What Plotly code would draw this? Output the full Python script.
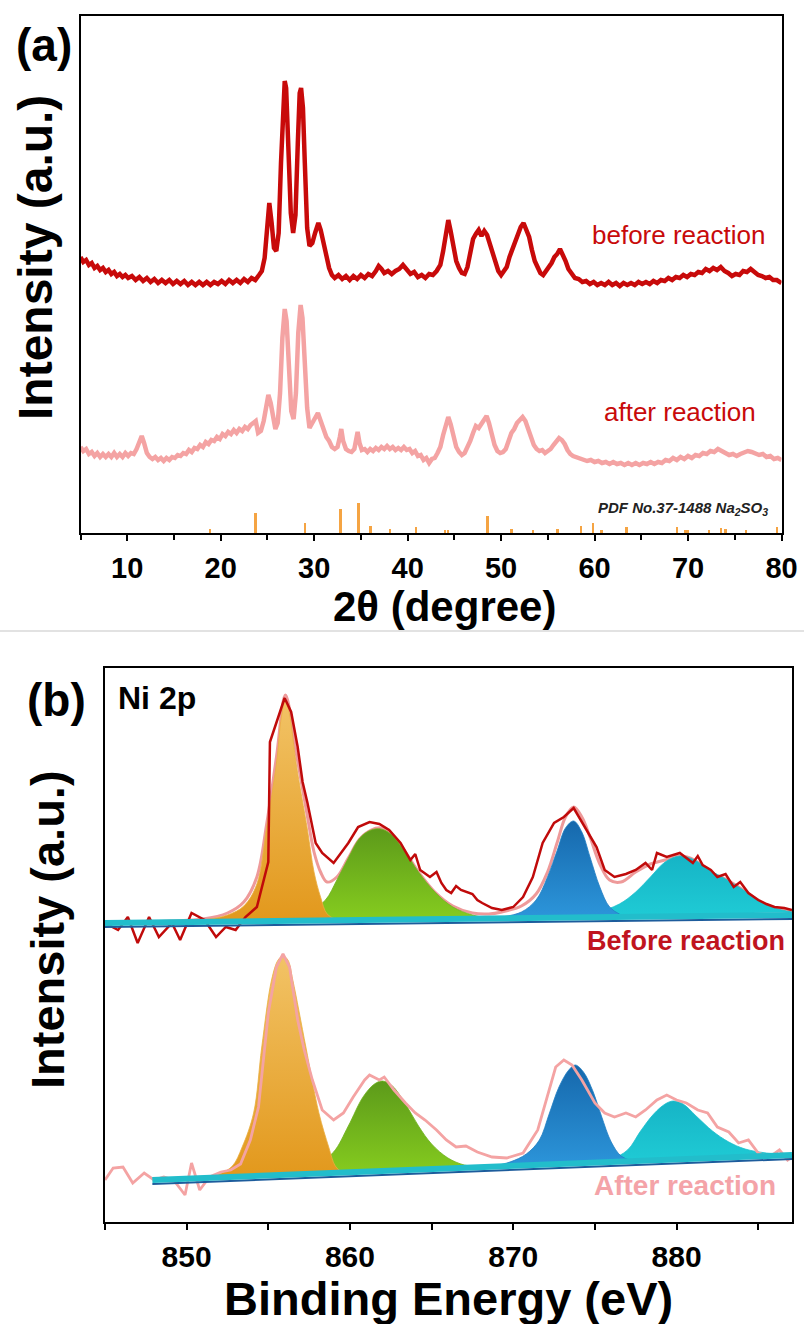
import plotly.graph_objects as go

# ---------------- Panel (a): XRD (2theta, intensity a.u.) ----------------
xrd_before = [
    (5.0, 276), (5.3, 271), (5.6, 273), (5.9, 268), (6.2, 270), (6.5, 265), (6.8, 267), (7.1, 263), (7.4, 265),
    (7.7, 261), (8.0, 263), (8.3, 259), (8.6, 261), (8.9, 257), (9.2, 259), (9.5, 256), (9.8, 258), (10.1, 255),
    (10.5, 257), (10.9, 253), (11.3, 256), (11.7, 252), (12.1, 255), (12.5, 251), (12.9, 254), (13.3, 250),
    (13.7, 253), (14.1, 250), (14.5, 253), (14.9, 249), (15.3, 252), (15.7, 249), (16.1, 252), (16.5, 248),
    (16.9, 251), (17.3, 248), (17.7, 251), (18.1, 248), (18.5, 251), (18.9, 248), (19.3, 251), (19.7, 249),
    (20.1, 252), (20.5, 249), (20.9, 253), (21.3, 250), (21.7, 253), (22.1, 250), (22.5, 254), (22.9, 251),
    (23.3, 255), (23.7, 253), (24.1, 258), (24.4, 262), (24.7, 275), (24.95, 305), (25.2, 330), (25.45, 310),
    (25.7, 285), (25.95, 282), (26.2, 300), (26.45, 370), (26.7, 440), (26.85, 452), (27.0, 445), (27.25, 390),
    (27.5, 320), (27.75, 300), (28.0, 318), (28.25, 390), (28.45, 440), (28.6, 445), (28.8, 425), (29.0, 370),
    (29.25, 305), (29.5, 287), (29.8, 290), (30.1, 300), (30.45, 310), (30.7, 303), (31.0, 290), (31.3, 274),
    (31.6, 265), (31.9, 258), (32.2, 255), (32.6, 258), (33.0, 254), (33.4, 257), (33.8, 253), (34.2, 257),
    (34.6, 254), (35.0, 258), (35.4, 255), (35.8, 259), (36.2, 257), (36.6, 262), (36.9, 267), (37.2, 264),
    (37.5, 260), (37.9, 262), (38.3, 259), (38.7, 262), (39.1, 264), (39.5, 268), (39.9, 263), (40.3, 259),
    (40.7, 261), (41.1, 256), (41.5, 258), (41.9, 255), (42.3, 259), (42.7, 258), (43.1, 262), (43.5, 268),
    (43.8, 282), (44.1, 302), (44.35, 313), (44.6, 302), (44.9, 285), (45.2, 272), (45.5, 265), (45.8, 260),
    (46.1, 259), (46.4, 266), (46.7, 280), (47.0, 294), (47.3, 299), (47.6, 303), (47.9, 297), (48.2, 302),
    (48.5, 298), (48.8, 288), (49.1, 280), (49.4, 270), (49.7, 262), (50.0, 258), (50.3, 262), (50.6, 266),
    (50.9, 276), (51.2, 284), (51.5, 292), (51.8, 300), (52.1, 306), (52.4, 310), (52.7, 304), (53.0, 296),
    (53.3, 283), (53.6, 272), (53.9, 266), (54.2, 260), (54.5, 258), (54.8, 262), (55.1, 265), (55.4, 270),
    (55.7, 276), (56.0, 279), (56.3, 284), (56.6, 279), (56.9, 272), (57.2, 264), (57.5, 260), (57.9, 255),
    (58.3, 254), (58.7, 251), (59.1, 252), (59.5, 249), (59.9, 251), (60.3, 248), (60.7, 250), (61.1, 248),
    (61.5, 251), (61.9, 248), (62.3, 250), (62.7, 247), (63.1, 250), (63.5, 248), (63.9, 250), (64.3, 248),
    (64.7, 251), (65.1, 249), (65.5, 251), (65.9, 249), (66.3, 252), (66.7, 250), (67.1, 253), (67.5, 252),
    (67.9, 255), (68.3, 253), (68.7, 256), (69.1, 255), (69.5, 258), (69.9, 256), (70.3, 259), (70.7, 258),
    (71.1, 261), (71.5, 260), (71.9, 264), (72.3, 262), (72.7, 265), (73.1, 263), (73.5, 266), (73.9, 262),
    (74.3, 260), (74.7, 257), (75.1, 259), (75.5, 258), (75.9, 262), (76.3, 261), (76.7, 264), (77.1, 261),
    (77.5, 258), (77.9, 257), (78.3, 255), (78.7, 256), (79.1, 253), (79.5, 253), (80.0, 250)]

xrd_after = [
    (5.0, 86), (5.3, 82), (5.6, 84), (5.9, 79), (6.2, 81), (6.5, 77), (6.8, 80), (7.1, 76), (7.4, 79), (7.7, 76),
    (8.0, 79), (8.3, 76), (8.6, 80), (8.9, 76), (9.2, 79), (9.5, 76), (9.8, 80), (10.1, 77), (10.4, 80),
    (10.7, 79), (11.0, 84), (11.3, 91), (11.55, 97), (11.8, 90), (12.1, 80), (12.4, 76), (12.7, 74), (13.0, 76),
    (13.3, 73), (13.6, 75), (13.9, 72), (14.2, 75), (14.5, 73), (14.8, 76), (15.1, 75), (15.4, 78), (15.7, 77),
    (16.0, 80), (16.3, 79), (16.6, 83), (16.9, 81), (17.2, 85), (17.5, 84), (17.8, 88), (18.1, 86), (18.4, 91),
    (18.7, 89), (19.0, 93), (19.3, 92), (19.6, 96), (19.9, 94), (20.2, 99), (20.5, 97), (20.8, 101), (21.1, 99),
    (21.4, 103), (21.7, 100), (22.0, 104), (22.3, 102), (22.6, 106), (22.9, 104), (23.2, 108), (23.5, 111),
    (23.75, 112), (24.0, 100), (24.3, 102), (24.6, 112), (24.85, 128), (25.1, 138), (25.35, 130), (25.6, 115),
    (25.85, 104), (26.1, 110), (26.35, 140), (26.6, 195), (26.85, 224), (27.05, 212), (27.3, 165), (27.55, 122),
    (27.8, 114), (28.05, 140), (28.3, 200), (28.55, 228), (28.75, 215), (29.0, 170), (29.25, 125), (29.5, 105),
    (29.8, 110), (30.1, 116), (30.4, 120), (30.7, 112), (31.0, 104), (31.3, 96), (31.6, 92), (31.9, 86),
    (32.2, 84), (32.5, 86), (32.75, 96), (32.9, 104), (33.1, 92), (33.4, 84), (33.7, 82), (34.0, 81), (34.3, 84),
    (34.5, 96), (34.65, 101), (34.85, 90), (35.1, 83), (35.4, 84), (35.7, 81), (36.0, 84), (36.3, 82), (36.6, 85),
    (36.9, 83), (37.2, 86), (37.5, 84), (37.8, 87), (38.1, 84), (38.4, 86), (38.7, 83), (39.0, 85), (39.3, 83),
    (39.6, 86), (39.9, 83), (40.2, 84), (40.5, 80), (40.8, 82), (41.1, 77), (41.4, 78), (41.7, 73), (42.0, 75),
    (42.3, 70), (42.6, 74), (42.9, 75), (43.2, 80), (43.5, 86), (43.8, 98), (44.1, 110), (44.35, 116),
    (44.6, 109), (44.9, 96), (45.2, 86), (45.5, 81), (45.8, 78), (46.1, 80), (46.4, 85), (46.7, 92), (47.0, 100),
    (47.3, 107), (47.6, 105), (47.9, 110), (48.2, 113), (48.45, 117), (48.7, 110), (49.0, 98), (49.3, 88),
    (49.6, 82), (49.9, 80), (50.2, 81), (50.5, 84), (50.8, 92), (51.1, 100), (51.4, 104), (51.7, 110),
    (52.0, 113), (52.3, 116), (52.6, 112), (52.9, 104), (53.2, 95), (53.5, 88), (53.8, 84), (54.1, 82),
    (54.4, 83), (54.7, 80), (55.0, 82), (55.3, 84), (55.6, 88), (55.9, 92), (56.2, 95), (56.5, 93), (56.8, 89),
    (57.1, 83), (57.4, 79), (57.7, 77), (58.0, 76), (58.4, 75), (58.8, 74), (59.2, 72), (59.6, 73), (60.0, 71),
    (60.4, 72), (60.8, 70), (61.2, 71), (61.6, 69), (62.0, 71), (62.4, 69), (62.8, 70), (63.2, 68), (63.6, 70),
    (64.0, 68), (64.4, 70), (64.8, 68), (65.2, 70), (65.6, 69), (66.0, 71), (66.4, 69), (66.8, 71), (67.2, 70),
    (67.6, 73), (68.0, 72), (68.4, 75), (68.8, 73), (69.2, 76), (69.6, 74), (70.0, 77), (70.4, 75), (70.8, 78),
    (71.2, 77), (71.6, 80), (72.0, 79), (72.4, 82), (72.8, 81), (73.2, 84), (73.6, 82), (74.0, 80), (74.4, 78),
    (74.8, 79), (75.2, 77), (75.6, 79), (76.0, 80), (76.4, 82), (76.8, 81), (77.2, 80), (77.6, 78), (78.0, 79),
    (78.4, 76), (78.8, 77), (79.2, 74), (79.6, 75), (80.0, 73)]

pdf_x = [18.8, 23.7, 29.0, 32.8, 34.7, 36.0, 38.1, 40.9, 44.0, 44.3, 48.5, 51.1, 53.4, 56.0, 58.5, 59.8,
         60.7, 63.4, 68.8, 69.7, 70.0, 72.2, 73.5, 74.0, 76.2, 79.5]
pdf_y = [4, 20, 10, 24, 30, 7, 4, 6, 3, 3, 17, 4, 3, 4, 7, 10,
         3, 6, 6, 3, 3, 3, 5, 4, 3, 6]

xrd_ticks = [10, 20, 30, 40, 50, 60, 70, 80]

# ---------------- Panel (b): XPS Ni 2p ----------------
xps_before_x = [845.0, 845.8, 846.4, 847.0, 847.7, 848.3, 849.1, 849.6, 850.3, 851.1, 851.8, 852.4, 853.0, 853.6,
                854.3, 854.7, 855.0, 855.1, 855.5, 856.0, 856.4, 856.8, 857.1, 857.4, 857.9, 858.3, 859.0, 859.3,
                859.9, 860.5, 861.2, 861.8, 862.4, 863.1, 863.4, 863.7, 864.0, 864.3, 864.9, 865.3, 865.6, 865.9,
                866.2, 866.5, 866.8, 867.5, 867.8, 868.1, 868.7, 869.3, 870.0, 870.6, 871.2, 871.8, 872.5, 873.1,
                873.7, 874.2, 874.7, 875.1, 875.6, 876.2, 876.9, 877.5, 878.1, 878.5, 878.8, 879.4, 880.2, 881.0,
                881.3, 881.6, 882.1, 882.5, 883.0, 883.5, 883.9, 884.4, 885.0, 885.5, 886.0, 886.6, 887.07]
xps_before_y = [299, 292, 305, 279, 305, 285, 299, 282, 309, 302, 285, 295, 292, 305,
                315, 340, 360, 480, 500, 524, 510, 475, 440, 419, 379, 369, 359, 366,
                379, 395, 400, 398, 392, 379, 370, 362, 368, 352, 345, 350, 339, 332,
                329, 336, 332, 328, 322, 319, 314, 312, 315, 325, 345, 379, 399, 405,
                414, 400, 385, 375, 352, 345, 348, 352, 359, 352, 369, 365, 369, 359,
                366, 357, 352, 345, 348, 335, 340, 329, 322, 318, 315, 314, 312]

env_before_x = [845, 849, 851, 852.5, 853.5, 854.3, 854.9, 855.5, 856.05, 856.7, 857.4, 857.8, 858.2, 858.6,
                859.2, 859.9, 860.6, 861.3, 861.9, 862.5, 863.3, 864.2, 865.2, 866.3, 867.5, 868.5, 869.3,
                870.5, 871.4, 872.1, 872.7, 873.2, 873.7, 874.2, 874.7, 875.3, 875.9, 876.6, 877.5, 878.4,
                879.3, 880.2, 881.1, 882.0, 883.0, 884.0, 885.0, 886.0, 887.07]
env_before_y = [299, 301, 303, 309, 320, 345, 398, 465, 527, 470, 405, 370, 350, 340,
                345, 364, 383, 392, 394, 388, 372, 350, 330, 316, 309, 308, 310,
                316, 328, 350, 380, 405, 415, 405, 385, 358, 342, 340, 350, 358,
                362, 366, 362, 350, 343, 333, 322, 314, 310]

bg_before_x = [845.0, 887.07]
bg_before_y = [299, 307]
bg_before_edge_y = [295, 303]

b_orange_x = [849.0, 851.0, 852.5, 853.5, 854.3, 854.9, 855.5, 855.8, 856.05, 856.3, 856.7, 857.4, 857.8, 858.2, 858.6, 859.2]
b_orange_y = [300, 302, 307, 316, 338, 395, 459, 505, 522, 508, 459, 392, 350, 325, 308, 302]
b_green_x = [856.0, 857.5, 858.5, 859.2, 859.9, 860.6, 861.3, 861.9, 862.5, 863.3, 864.2, 865.2, 866.3, 867.5, 868.5]
b_green_y = [302, 310, 322, 342, 364, 384, 392, 393, 388, 372, 350, 330, 315, 307, 304]
b_blue_x = [869.3, 870.5, 871.4, 872.1, 872.7, 873.2, 873.7, 874.2, 874.7, 875.3, 875.9, 876.6]
b_blue_y = [305, 310, 322, 345, 372, 394, 401, 390, 365, 335, 315, 307]
b_cyan_x = [873.5, 875.0, 876.5, 877.5, 878.4, 879.3, 880.2, 881.1, 882.0, 883.0, 884.0, 885.0, 886.0, 887.07]
b_cyan_y = [305, 309, 318, 330, 345, 360, 366, 362, 352, 343, 333, 322, 314, 310]

xps_after_x = [845.0, 845.5, 846.1, 846.7, 847.4, 848.0, 848.6, 849.2, 849.9, 850.3, 850.8, 851.4, 852.1, 852.7,
               853.3, 853.9, 854.4, 854.7, 855.0, 855.5, 855.9, 856.3, 856.8, 857.2, 857.7, 858.3, 859.0, 859.6,
               860.2, 860.9, 861.2, 861.8, 862.1, 862.7, 863.4, 864.0, 864.6, 865.3, 865.9, 866.5, 867.1, 867.8,
               868.7, 869.6, 870.6, 871.5, 872.2, 872.6, 873.1, 873.6, 874.2, 875.0, 875.6, 876.2, 876.9, 877.5,
               878.1, 878.8, 879.4, 880.0, 880.6, 881.3, 881.9, 882.5, 883.2, 883.8, 884.4, 885.0, 885.7, 886.3,
               886.8, 887.07]
xps_after_y = [42, 54, 55, 39, 49, 42, 45, 42, 27, 59, 32, 45, 50, 52,
               58, 82, 115, 159, 209, 255, 268, 255, 202, 172, 142, 112, 102, 109,
               125, 142, 147, 142, 145, 132, 119, 109, 102, 92, 82, 75, 76, 70,
               65, 64, 69, 92, 132, 155, 162, 157, 142, 119, 109, 105, 109, 105,
               112, 122, 127, 122, 119, 112, 109, 95, 90, 79, 82, 69, 65, 72,
               62, 65]

bg_after_x = [847.9, 887.07]
bg_after_y = [42, 67]
bg_after_edge_y = [38, 63]

a_orange_x = [851.0, 852.0, 852.8, 853.4, 854.1, 854.6, 855.2, 855.6, 855.9, 856.2, 856.5, 857.3, 858.1, 858.7, 859.1, 859.5]
a_orange_y = [44, 48, 56, 75, 109, 175, 242, 262, 266, 262, 242, 175, 109, 75, 56, 50]
a_green_x = [855.5, 857.0, 858.0, 859.0, 859.9, 860.8, 861.5, 862.0, 862.6, 863.4, 864.2, 865.0, 866.0, 867.0, 868.0]
a_green_y = [47, 52, 58, 70, 96, 125, 138, 141, 136, 118, 96, 78, 64, 57, 55]
a_blue_x = [868.5, 869.8, 870.8, 871.6, 872.2, 872.8, 873.4, 873.8, 874.3, 874.9, 875.4, 876.0, 876.6, 877.3]
a_blue_y = [55, 60, 68, 82, 108, 135, 152, 157, 150, 130, 106, 80, 66, 61]
a_cyan_x = [874.5, 876.0, 877.0, 877.8, 878.6, 879.3, 879.8, 880.4, 881.2, 882.2, 883.2, 884.2, 885.5, 887.07]
a_cyan_y = [59, 63, 72, 91, 108, 118, 121, 118, 106, 91, 80, 73, 69, 67]

xps_ticks = [850, 860, 870, 880]

# ---------------- Styling ----------------
REF_W, H = 804, 1324
W = 820   # page is rendered wider and scaled back to 804 by the capture
FONT = "Liberation Sans, Arial, Helvetica, sans-serif"
C_BEFORE = "#C80A0A"
C_AFTER = "#F4A3A3"
C_PDF = "#F5A443"


def px(x):
    return x / REF_W


def py(y):
    return 1 - y / H


fig = go.Figure()

# Panel (a)
fig.add_trace(go.Bar(x=pdf_x, y=pdf_y, width=0.2, marker=dict(color=C_PDF, line=dict(width=0)),
                     xaxis="x", yaxis="y", showlegend=False))
fig.add_trace(go.Scatter(x=[p[0] for p in xrd_after], y=[p[1] for p in xrd_after], mode="lines",
                         line=dict(color=C_AFTER, width=4.5), xaxis="x", yaxis="y", showlegend=False))
fig.add_trace(go.Scatter(x=[p[0] for p in xrd_before], y=[p[1] for p in xrd_before], mode="lines",
                         line=dict(color=C_BEFORE, width=4.5), xaxis="x", yaxis="y", showlegend=False))

# Panel (b)
comp_styles = {
    "green": [[0, "#86CC1F"], [1, "#5C9A1A"]],
    "cyan": [[0, "#1FCBD5"], [1, "#16B4C6"]],
    "blue": [[0, "#2C95DA"], [1, "#1668AC"]],
    "orange": [[0, "#E2981C"], [1, "#F2C366"]],
}
line_col = {"green": "#6FB21D", "cyan": "#1ABFCC", "blue": "#1F7EC3", "orange": "#EAAD40"}


def add_comp(xs, ys, key, ax, ay):
    fig.add_trace(go.Scatter(x=xs, y=ys, mode="lines", fill="toself", line_shape="spline",
                             line=dict(color=line_col[key], width=0.8),
                             fillgradient=dict(type="vertical", colorscale=comp_styles[key]),
                             xaxis=ax, yaxis=ay, showlegend=False, hoverinfo="skip"))


# before
fig.add_trace(go.Scatter(x=env_before_x, y=env_before_y, mode="lines", line_shape="spline",
                         line=dict(color="#EE9A9A", width=3), xaxis="x2", yaxis="y2", showlegend=False))
add_comp(b_green_x, b_green_y, "green", "x2", "y2")
add_comp(b_cyan_x, b_cyan_y, "cyan", "x2", "y2")
add_comp(b_blue_x, b_blue_y, "blue", "x2", "y2")
add_comp(b_orange_x, b_orange_y, "orange", "x2", "y2")
fig.add_trace(go.Scatter(x=xps_before_x, y=xps_before_y, mode="lines",
                         line=dict(color="#C00A0A", width=2.5), xaxis="x2", yaxis="y2", showlegend=False))
fig.add_trace(go.Scatter(x=bg_before_x, y=bg_before_edge_y, mode="lines",
                         line=dict(color="#1D5C9C", width=2), xaxis="x2", yaxis="y2", showlegend=False))
fig.add_trace(go.Scatter(x=bg_before_x, y=bg_before_y, mode="lines",
                         line=dict(color="#22BDCB", width=6), xaxis="x2", yaxis="y2", showlegend=False))

# after
add_comp(a_green_x, a_green_y, "green", "x2", "y2")
add_comp(a_cyan_x, a_cyan_y, "cyan", "x2", "y2")
add_comp(a_blue_x, a_blue_y, "blue", "x2", "y2")
add_comp(a_orange_x, a_orange_y, "orange", "x2", "y2")
fig.add_trace(go.Scatter(x=xps_after_x, y=xps_after_y, mode="lines",
                         line=dict(color=C_AFTER, width=2.8), xaxis="x2", yaxis="y2", showlegend=False))
fig.add_trace(go.Scatter(x=bg_after_x, y=bg_after_edge_y, mode="lines",
                         line=dict(color="#1D5C9C", width=2), xaxis="x2", yaxis="y2", showlegend=False))
fig.add_trace(go.Scatter(x=bg_after_x, y=bg_after_y, mode="lines",
                         line=dict(color="#22BDCB", width=6), xaxis="x2", yaxis="y2", showlegend=False))

axis_common = dict(showline=True, linecolor="black", linewidth=2, mirror=True, showgrid=False,
                   zeroline=False)

fig.update_layout(
    width=W, height=H, margin=dict(l=0, r=0, t=0, b=0),
    paper_bgcolor="white", plot_bgcolor="white",
    showlegend=False, bargap=0,
    font=dict(family=FONT, color="black"),
    xaxis=dict(domain=[px(80.5), px(781.5)], range=[5, 80], anchor="y",
               tickmode="array", tickvals=xrd_ticks, ticks="outside", ticklen=6, tickwidth=2,
               tickcolor="black", ticklabelstandoff=2,
               tickfont=dict(size=29, family=FONT, weight="bold"),
               minor=dict(dtick=5, tick0=0, ticks="outside", ticklen=5, tickwidth=2, tickcolor="black"),
               **axis_common),
    yaxis=dict(domain=[py(533), py(16)], range=[0, 517], anchor="x", showticklabels=False,
               ticks="", **axis_common),
    xaxis2=dict(domain=[px(105), px(792)], range=[845, 887.07], anchor="y2",
                tickmode="array", tickvals=xps_ticks, ticks="outside", ticklen=6, tickwidth=2,
                tickcolor="black", ticklabelstandoff=1,
                tickfont=dict(size=30, family=FONT, weight="bold"),
                minor=dict(dtick=5, tick0=845, ticks="outside", ticklen=6, tickwidth=2, tickcolor="black"),
                **axis_common),
    yaxis2=dict(domain=[py(1222), py(668)], range=[0, 554], anchor="x2", showticklabels=False,
                ticks="", **axis_common),
)

ann = []


def add_text(text, x, y, size, color="black", weight="bold", angle=0, style="normal"):
    ann.append(dict(text=text, x=px(x), y=py(y), xref="paper", yref="paper", xanchor="center",
                    yanchor="middle", showarrow=False, textangle=angle,
                    font=dict(size=size, color=color, family=FONT, weight=weight, style=style)))


add_text("(a)", 44, 45, 46)
add_text("Intensity (a.u.)", 35, 258, 48, angle=-90)
add_text("before reaction", 678, 235, 26, color=C_BEFORE, weight="normal")
add_text("after reaction", 680, 412, 26, color=C_BEFORE, weight="normal")
add_text("PDF No.37-1488 Na<sub>2</sub>SO<sub>3</sub>", 683, 508, 15, color="#222222", style="italic")
add_text("2θ (degree)", 444, 606, 42)
add_text("(b)", 56, 700, 46)
add_text("Ni 2p", 157, 698, 32)
add_text("Before reaction", 686, 941, 27, color="#C0141E")
add_text("After reaction", 685, 1185, 28, color="#F4A3A8")
add_text("Intensity (a.u.)", 47, 930, 47, angle=-90)
add_text("Binding Energy (eV)", 448, 1298, 47)

fig.update_layout(annotations=ann)
fig.add_shape(type="line", xref="paper", yref="paper", x0=0, x1=1, y0=py(631), y1=py(631),
              line=dict(color="#D9D9D9", width=1.5))

fig.write_html("out.html", config={"displayModeBar": False},
               post_script="document.body.style.margin='0';document.body.style.overflow='hidden';"
                           "document.documentElement.style.overflow='hidden';")
